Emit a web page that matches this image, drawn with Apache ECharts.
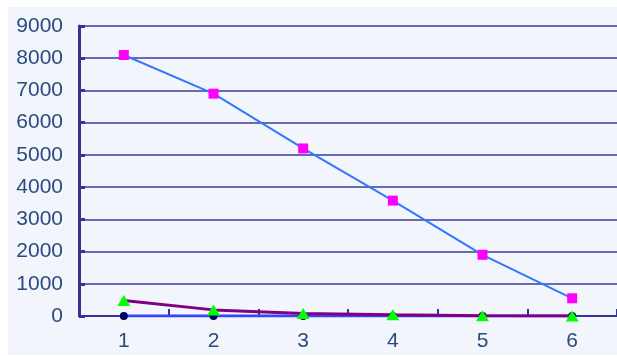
<!DOCTYPE html>
<html>
<head>
<meta charset="utf-8">
<script src="https://cdn.jsdelivr.net/npm/echarts@6/dist/echarts.min.js"></script>
<style>html,body{margin:0;padding:0;background:#fff}#c{width:617px;height:356px}</style>
</head>
<body>
<div id="c"></div>
<script>
var categories = ['1', '2', '3', '4', '5', '6'];
var seriesSquares = [8100, 6900, 5200, 3580, 1900, 550];
var seriesTriangles = [480, 190, 80, 40, 10, 0];
var seriesCircles = [0, 0, 0, 0, 0, 0];
var yTicks = [0, 1000, 2000, 3000, 4000, 5000, 6000, 7000, 8000, 9000];

var chart = echarts.init(document.getElementById('c'), null, {renderer: 'canvas'});
var labelColor = '#2a4b7c';
chart.setOption({
  animation: false,
  backgroundColor: '#ffffff',
  graphic: [{
    type: 'rect', z: -10, silent: true,
    shape: {x: 8, y: 7, width: 609, height: 348},
    style: {fill: '#f2f5fb'}
  }],
  grid: {left: 79, top: 26, right: 0, bottom: 40, containLabel: false},
  xAxis: {
    type: 'category',
    data: categories,
    boundaryGap: true,
    axisLine: {lineStyle: {color: '#333399', width: 2}},
    axisTick: {show: true, inside: true, length: 7, alignWithLabel: false, lineStyle: {color: '#333399', width: 2}},
    axisLabel: {color: labelColor, fontSize: 21, fontFamily: 'Liberation Sans', margin: 15},
    splitLine: {show: false}
  },
  yAxis: {
    type: 'value',
    min: yTicks[0],
    max: yTicks[yTicks.length - 1],
    interval: 1000,
    axisLine: {show: true, lineStyle: {color: '#333399', width: 3}},
    axisTick: {show: true, inside: true, length: 6, lineStyle: {color: '#333399', width: 3}},
    axisLabel: {color: labelColor, fontSize: 21, fontFamily: 'Liberation Sans', margin: 16,
      formatter: function (v) { return String(v); }},
    splitLine: {show: true, lineStyle: {color: '#6a6ab4', width: 2}}
  },
  series: [
    {
      type: 'line', data: seriesCircles, z: 3,
      symbol: 'circle', symbolSize: 8,
      itemStyle: {color: '#000066'},
      lineStyle: {color: '#3344ff', width: 3}
    },
    {
      type: 'line', data: seriesTriangles, z: 4,
      symbol: 'triangle', symbolSize: [13, 11],
      itemStyle: {color: '#00ff00'},
      lineStyle: {color: '#800080', width: 3}
    },
    {
      type: 'line', data: seriesSquares, z: 5,
      symbol: 'rect', symbolSize: 10,
      itemStyle: {color: '#ff00ff'},
      lineStyle: {color: '#3377ff', width: 2}
    }
  ]
});
</script>
</body>
</html>
